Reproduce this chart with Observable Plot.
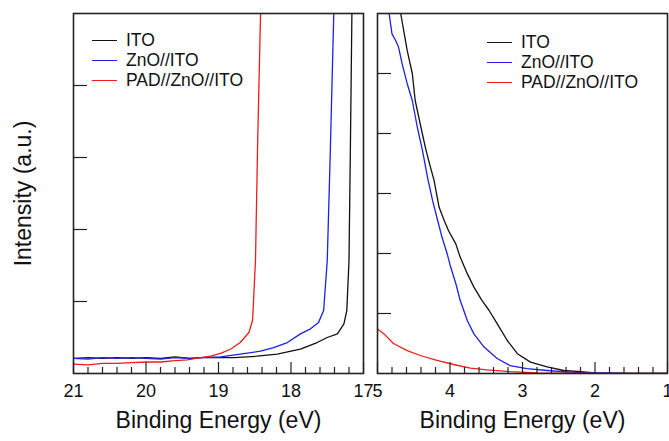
<!DOCTYPE html>
<html>
<head>
<meta charset="utf-8">
<script src="https://cdn.jsdelivr.net/npm/d3@7"></script>
<script src="https://cdn.jsdelivr.net/npm/@observablehq/plot@0.6"></script>
<style>
  html, body { margin: 0; padding: 0; background: #fff; }
  #wrap { position: relative; width: 669px; height: 441px; overflow: hidden; font-family: "Liberation Sans", Arial, sans-serif; }
  #wrap svg { position: absolute; top: 0; overflow: visible; }
  .leg { position: absolute; font-size: 17.5px; color: #111; line-height: 20px; }
  .leg div { display: flex; align-items: center; height: 20px; white-space: nowrap; }
  .leg span.sw { display: inline-block; width: 25px; height: 0; border-top: 1.4px solid; margin-right: 9px; }
</style>
</head>
<body>
<div id="wrap"></div>
<script>
// ---- series names / colours ----
const seriesNames = ["ITO", "ZnO//ITO", "PAD//ZnO//ITO"];
const seriesColors = ["#111111", "#1f1fe6", "#ee1c1c"];

// ---- left panel (secondary electron cutoff), Binding Energy 21 -> 17 eV ----
const leftITO_x = [21.0, 20.8, 20.6, 20.4, 20.2, 20.0, 19.8, 19.6, 19.4, 19.2, 19.11, 18.79, 18.47, 18.19, 18.0, 17.87, 17.64, 17.5, 17.36, 17.27, 17.23, 17.2, 17.18, 17.16];
const leftITO_y = [0.21, 0.22, 0.21, 0.22, 0.21, 0.22, 0.21, 0.23, 0.21, 0.22, 0.22, 0.22, 0.24, 0.27, 0.31, 0.34, 0.43, 0.50, 0.55, 0.69, 0.875, 1.57, 3.2, 5.0];
const leftZnO_x = [21.0, 20.8, 20.6, 20.4, 20.2, 20.0, 19.8, 19.6, 19.4, 19.25, 18.97, 18.70, 18.42, 18.24, 18.05, 17.87, 17.73, 17.62, 17.55, 17.50, 17.46, 17.41];
const leftZnO_y = [0.21, 0.20, 0.22, 0.21, 0.22, 0.21, 0.20, 0.22, 0.21, 0.22, 0.23, 0.27, 0.31, 0.36, 0.43, 0.55, 0.62, 0.71, 0.875, 1.57, 3.0, 5.0];
const leftPAD_x = [21.0, 20.8, 20.6, 20.4, 20.2, 19.98, 19.8, 19.6, 19.43, 19.25, 19.11, 18.97, 18.83, 18.70, 18.58, 18.53, 18.49, 18.46, 18.42];
const leftPAD_y = [0.13, 0.12, 0.14, 0.14, 0.15, 0.16, 0.16, 0.18, 0.19, 0.22, 0.24, 0.28, 0.34, 0.43, 0.57, 0.74, 1.57, 3.2, 5.0];

// ---- right panel (valence band edge), Binding Energy 5 -> 1 eV ----
const rightITO_x = [4.68, 4.59, 4.52, 4.48, 4.40, 4.34, 4.27, 4.22, 4.15, 4.08, 4.02, 3.92, 3.86, 3.76, 3.67, 3.56, 3.46, 3.35, 3.21, 3.07, 2.89, 2.66, 2.43, 2.2, 2.0, 1.5, 1.0];
const rightITO_y = [6.0, 5.38, 5.0, 4.55, 4.1, 3.77, 3.44, 3.22, 2.77, 2.55, 2.38, 2.16, 1.94, 1.66, 1.44, 1.22, 1.05, 0.83, 0.55, 0.33, 0.19, 0.11, 0.05, 0.03, 0.01, 0.0, 0.0];
const rightZnO_x = [4.84, 4.80, 4.75, 4.71, 4.66, 4.59, 4.52, 4.45, 4.38, 4.31, 4.24, 4.17, 4.11, 4.04, 3.99, 3.92, 3.86, 3.76, 3.67, 3.53, 3.35, 3.17, 2.94, 2.66, 2.3, 2.0, 1.5, 1.0];
const rightZnO_y = [6.0, 5.66, 5.55, 5.44, 5.16, 4.83, 4.55, 4.1, 3.72, 3.27, 2.88, 2.55, 2.27, 2.0, 1.77, 1.5, 1.22, 0.88, 0.66, 0.44, 0.25, 0.13, 0.08, 0.05, 0.02, 0.01, 0.0, 0.0];
const rightPAD_x = [5.0, 4.91, 4.78, 4.59, 4.41, 4.18, 3.95, 3.72, 3.49, 3.17, 2.8, 2.4, 2.0, 1.5, 1.0];
const rightPAD_y = [0.74, 0.66, 0.5, 0.38, 0.3, 0.22, 0.15, 0.09, 0.06, 0.03, 0.01, 0.005, 0.0, 0.0, 0.0];

// ---- ticks / labels ----
const leftMajorTicks = [21, 20, 19, 18, 17];
const rightMajorTicks = [5, 4, 3, 2, 1];
const leftYTicks = [1, 2, 3, 4];
const rightYTicks = [1, 2, 3, 4, 5];
const xLabel = "Binding Energy (eV)";
const yLabel = "Intensity (a.u.)";

function rows(xs, ys, s) { return xs.map((x, i) => ({x, y: ys[i], series: s})); }
function minorTicks(lo, hi, majors) {
  return d3.range(Math.round(lo * 5), Math.round(hi * 5) + 1).map(v => v / 5)
    .filter(v => !majors.some(m => Math.abs(m - v) < 1e-6));
}

const leftData = [
  ...rows(leftITO_x, leftITO_y, seriesNames[0]),
  ...rows(leftZnO_x, leftZnO_y, seriesNames[1]),
  ...rows(leftPAD_x, leftPAD_y, seriesNames[2])
];
const rightData = [
  ...rows(rightITO_x, rightITO_y, seriesNames[0]),
  ...rows(rightZnO_x, rightZnO_y, seriesNames[1]),
  ...rows(rightPAD_x, rightPAD_y, seriesNames[2])
];

const font = "'Liberation Sans', Arial, Helvetica, sans-serif";

function panel({data, xDomain, yDomain, majors, yTicks, width, marginLeft, marginRight, withYLabel}) {
  const minors = minorTicks(Math.min(...xDomain), Math.max(...xDomain), majors);
  const marks = [
    Plot.line(data, {x: "x", y: "y", z: "series", stroke: "series", strokeWidth: 1.3, clip: true}),
    Plot.axisX({ticks: minors, tickSize: -6, tickFormat: () => "", label: null, stroke: "#222", strokeWidth: 1.2}),
    Plot.axisX({ticks: majors, tickSize: -11, tickFormat: () => "", label: null, stroke: "#222", strokeWidth: 1.2}),
    Plot.axisX({ticks: majors, tickSize: 0, tickPadding: 11, tickFormat: d => String(d), label: null, fontSize: 18, fill: "#111"}),
    Plot.axisY({anchor: "left", ticks: yTicks, tickSize: -14, tickFormat: () => "", label: null, stroke: "#222", strokeWidth: 1.2}),
    Plot.frame({stroke: "#222", strokeWidth: 1.6}),
    Plot.text([xLabel], {frameAnchor: "bottom", dy: 54, fontSize: 23, fill: "#111"})
  ];
  if (withYLabel) {
    marks.push(Plot.text([yLabel], {frameAnchor: "left", textAnchor: "middle", dx: -50, rotate: -90, fontSize: 23, fill: "#111"}));
  }
  return Plot.plot({
    width, height: 441,
    marginLeft, marginRight, marginTop: 13, marginBottom: 68,
    x: {domain: xDomain},
    y: {domain: yDomain},
    color: {domain: seriesNames, range: seriesColors},
    style: {fontFamily: font, fontSize: "18px", color: "#111", background: "transparent", overflow: "visible"},
    marks
  });
}

const wrap = document.getElementById("wrap");

const left = panel({data: leftData, xDomain: [21, 17], yDomain: [0, 5], majors: leftMajorTicks, yTicks: leftYTicks,
  width: 370, marginLeft: 73, marginRight: 7, withYLabel: true});
left.style.left = "0px";
wrap.appendChild(left);

const right = panel({data: rightData, xDomain: [5, 1], yDomain: [0, 6], majors: rightMajorTicks, yTicks: rightYTicks,
  width: 299, marginLeft: 7, marginRight: 2, withYLabel: false});
right.style.left = "370px";
wrap.appendChild(right);

function legend(leftPx, topPx) {
  const el = document.createElement("div");
  el.className = "leg";
  el.style.left = leftPx + "px";
  el.style.top = topPx + "px";
  seriesNames.forEach((name, i) => {
    const row = document.createElement("div");
    const sw = document.createElement("span");
    sw.className = "sw";
    sw.style.borderColor = seriesColors[i];
    row.appendChild(sw);
    row.appendChild(document.createTextNode(name));
    el.appendChild(row);
  });
  wrap.appendChild(el);
}
legend(92, 30);
legend(487, 32);
</script>
</body>
</html>
